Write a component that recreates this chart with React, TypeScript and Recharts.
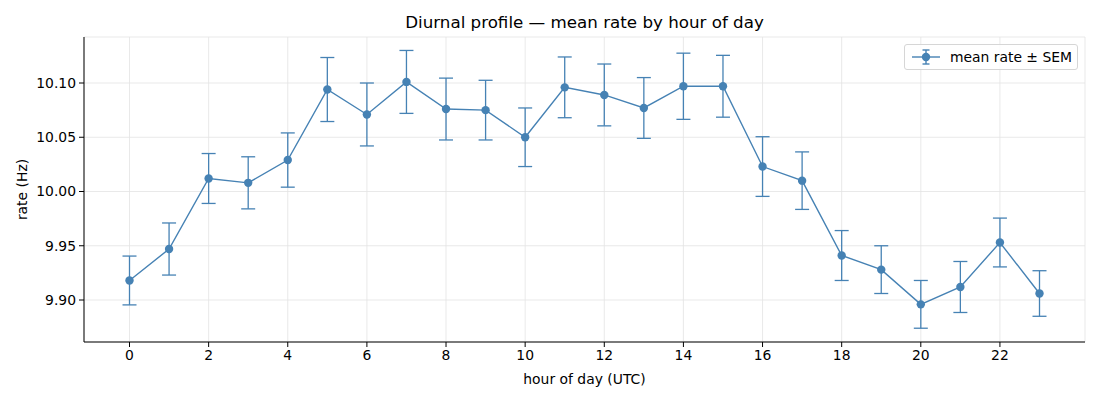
import {
  LineChart,
  Line,
  XAxis,
  YAxis,
  CartesianGrid,
  ErrorBar,
} from 'recharts'

const hours = [0, 1, 2, 3, 4, 5, 6, 7, 8, 9, 10, 11, 12, 13, 14, 15, 16, 17, 18, 19, 20, 21, 22, 23]
const meanRate = [
  9.918, 9.947, 10.012, 10.008, 10.029, 10.094, 10.071, 10.101, 10.076, 10.075, 10.05, 10.096,
  10.089, 10.077, 10.097, 10.097, 10.023, 10.01, 9.941, 9.928, 9.896, 9.912, 9.953, 9.906,
]
const sem = [
  0.0225, 0.024, 0.023, 0.024, 0.025, 0.0295, 0.029, 0.029, 0.0285, 0.0275, 0.027, 0.028,
  0.0285, 0.028, 0.0305, 0.0285, 0.0275, 0.0265, 0.023, 0.022, 0.022, 0.0235, 0.0225, 0.021,
]
const xTicks = [0, 2, 4, 6, 8, 10, 12, 14, 16, 18, 20, 22]
const yTicks = [9.9, 9.95, 10.0, 10.05, 10.1]

const COLOR = '#4682b4'
const FONT = '"DejaVu Sans", sans-serif'
const FS = 13.9

const data = hours.map((h, i) => ({ hour: h, rate: meanRate[i], sem: sem[i] }))

// legend drawn as an overlay so it doesn't push the plot area around
function LegendBox() {
  return (
    <div
      style={{
        position: 'absolute',
        top: 44,
        right: 22,
        display: 'flex',
        alignItems: 'center',
        border: '1px solid #d6d6d6',
        borderRadius: 3,
        background: 'rgba(255,255,255,0.85)',
        padding: '2px 5px 2px 6px',
        fontFamily: FONT,
        fontSize: FS,
        color: '#000',
      }}
    >
      <svg width={30} height={20} style={{ marginRight: 9 }}>
        <line x1={1} y1={10} x2={29} y2={10} stroke={COLOR} strokeWidth={1.4} />
        <line x1={15} y1={3} x2={15} y2={17} stroke={COLOR} strokeWidth={1.4} />
        <line x1={11.5} y1={3} x2={18.5} y2={3} stroke={COLOR} strokeWidth={1.4} />
        <line x1={11.5} y1={17} x2={18.5} y2={17} stroke={COLOR} strokeWidth={1.4} />
        <circle cx={15} cy={10} r={4.2} fill={COLOR} />
      </svg>
      <span>mean rate ± SEM</span>
    </div>
  )
}

export default function App() {
  return (
    <div style={{ position: 'absolute', left: 0, top: 0, width: 1100, height: 400, background: '#fff' }}>
      <div
        style={{
          position: 'absolute',
          left: 84,
          width: 1001,
          top: 12,
          textAlign: 'center',
          fontFamily: FONT,
          fontSize: 16.7,
          color: '#000',
        }}
      >
        Diurnal profile — mean rate by hour of day
      </div>
      <LineChart
        width={1100}
        height={400}
        data={data}
        margin={{ top: 37, right: 15, bottom: 8, left: 24 }}
      >
        <CartesianGrid stroke="#e3e3e3" strokeWidth={0.8} />
        <XAxis
          dataKey="hour"
          type="number"
          domain={[-1.15, 24.15]}
          ticks={xTicks}
          allowDataOverflow
          height={50}
          tickSize={5}
          tickMargin={3}
          stroke="#000"
          tick={{ fill: '#000', fontSize: FS, fontFamily: FONT }}
          label={{
            value: 'hour of day (UTC)',
            position: 'insideBottom',
            offset: 8,
            fill: '#000',
            fontSize: FS,
            fontFamily: FONT,
          }}
        />
        <YAxis
          width={60}
          type="number"
          domain={[9.8613, 10.1424]}
          ticks={yTicks}
          allowDataOverflow
          tickFormatter={(v: number) => v.toFixed(2)}
          tickSize={5}
          tickMargin={3}
          stroke="#000"
          tick={{ fill: '#000', fontSize: FS, fontFamily: FONT }}
          label={{
            value: 'rate (Hz)',
            angle: -90,
            position: 'insideLeft',
            offset: -2,
            style: { textAnchor: 'middle' },
            fill: '#000',
            fontSize: FS,
            fontFamily: FONT,
          }}
        />
        <Line
          type="linear"
          dataKey="rate"
          name="mean rate ± SEM"
          stroke={COLOR}
          strokeWidth={1.4}
          dot={{ r: 4.2, fill: COLOR, stroke: COLOR, strokeWidth: 0 }}
          activeDot={false}
          isAnimationActive={false}
        >
          <ErrorBar dataKey="sem" direction="y" width={7} stroke={COLOR} strokeWidth={1.3} />
        </Line>
      </LineChart>
      <LegendBox />
    </div>
  )
}
